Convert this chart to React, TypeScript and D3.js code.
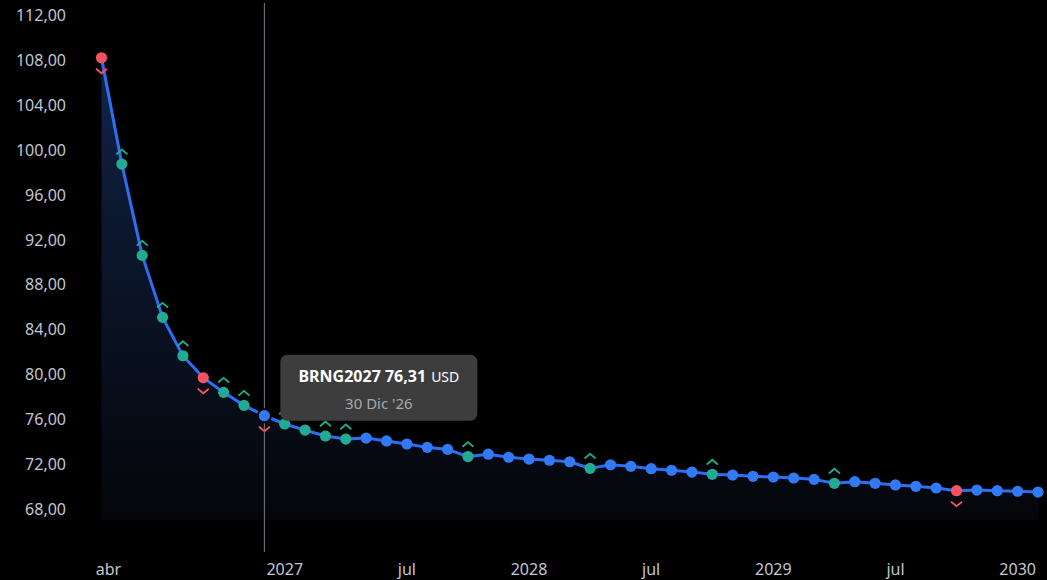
import React from "react";
import * as d3 from "d3";

// Monthly settlement prices of the Brent futures strip (USD), Apr 2026 .. Feb 2030
const prices: number[] = [
  108.19, 98.72, 90.59, 85.07, 81.65, 79.69, 78.39, 77.23, 76.31, 75.57,
  75.03, 74.5, 74.23, 74.32, 74.06, 73.79, 73.49, 73.31, 72.67, 72.88,
  72.61, 72.45, 72.34, 72.21, 71.62, 71.94, 71.8, 71.59, 71.45, 71.29,
  71.09, 71.03, 70.91, 70.85, 70.76, 70.64, 70.29, 70.43, 70.29, 70.14,
  70.02, 69.87, 69.63, 69.69, 69.63, 69.58, 69.51,
];

// Signal per contract: "u" = up marker (green), "d" = down marker (red), "" = none
const signals: string[] = [
  "d", "u", "u", "u", "u", "d", "u", "u", "d", "u",
  "u", "u", "u", "", "", "", "", "", "u", "",
  "", "", "", "", "u", "", "", "", "", "",
  "u", "", "", "", "", "", "u", "", "", "",
  "", "", "d", "", "", "", "",
];

const xTickIndex: number[] = [0, 9, 15, 21, 27, 33, 39, 45];
const xTickLabels: string[] = ["abr", "2027", "jul", "2028", "jul", "2029", "jul", "2030"];

const yTicks: number[] = [68, 72, 76, 80, 84, 88, 92, 96, 100, 104, 108, 112];

const hoverIndex = 8;
const tooltipSymbol = "BRNG2027";
const tooltipCurrency = "USD";
const tooltipDate = "30 Dic '26";

const W = 1047;
const H = 580;

const COLORS = {
  bg: "#000000",
  line: "#2b70f2",
  dot: "#3179f5",
  up: "#22ab94",
  down: "#f7525f",
  axisText: "#c3c6ce",
  crosshair: "#7a7d86",
  tooltipBg: "#3d3d3d",
  tooltipSub: "#a6a9b1",
};

const FONT = "'Noto Sans', 'Open Sans', sans-serif";

const fmt = (v: number) => d3.format(".2f")(v).replace(".", ",");

export default function App() {
  const x = d3.scaleLinear().domain([0, prices.length - 1]).range([101.5, 1038]);
  const y = d3.scaleLinear().domain([68, 112]).range([509, 15]);

  const line = d3
    .line<number>()
    .x((_, i) => x(i))
    .y((d) => y(d));
  const area = d3
    .area<number>()
    .x((_, i) => x(i))
    .y0(y(67))
    .y1((d) => y(d));

  const maxV = d3.max(prices) as number;
  const hx = x(hoverIndex);
  const hy = y(prices[hoverIndex]);

  const tipW = 197;
  const tipH = 66;
  const tipX = hx + 16;
  const tipY = hy - 61;
  const tipCx = tipX + tipW / 2;

  return (
    <svg
      width={W}
      height={H}
      style={{ position: "absolute", left: 0, top: 0, background: COLORS.bg, display: "block" }}
    >
      <defs>
        <linearGradient id="areaGrad" gradientUnits="userSpaceOnUse" x1={0} x2={0} y1={y(maxV)} y2={y(67)}>
          <stop offset="0" stopColor="#122449" />
          <stop offset="0.35" stopColor="#0c1830" />
          <stop offset="0.8" stopColor="#070b15" />
          <stop offset="1" stopColor="#04060a" />
        </linearGradient>
      </defs>
      <rect x={0} y={0} width={W} height={H} fill={COLORS.bg} />

      {/* Y axis labels */}
      {yTicks.map((t) => (
        <text
          key={t}
          x={66}
          y={y(t)}
          textAnchor="end"
          dominantBaseline="central"
          fill={COLORS.axisText}
          fontFamily={FONT}
          fontSize={16}
        >
          {fmt(t)}
        </text>
      ))}

      {/* X axis labels */}
      {xTickIndex.map((idx, k) => (
        <text
          key={k}
          x={x(idx) + (idx === 0 ? 7 : 0)}
          y={575}
          textAnchor="middle"
          fill={COLORS.axisText}
          fontFamily={FONT}
          fontSize={16}
        >
          {xTickLabels[k]}
        </text>
      ))}

      {/* Area */}
      <path d={area(prices) || ""} fill="url(#areaGrad)" />

      {/* Crosshair */}
      <line x1={hx} x2={hx} y1={3} y2={552} stroke={COLORS.crosshair} strokeWidth={1} />

      {/* Line */}
      <path d={line(prices) || ""} fill="none" stroke={COLORS.line} strokeWidth={3} strokeLinejoin="round" />

      {/* Points */}
      {prices.map((v, i) => {
        const s = signals[i];
        const cx = x(i);
        const cy = y(v);
        const hovered = i === hoverIndex;
        const fill = hovered ? COLORS.dot : s === "u" ? COLORS.up : s === "d" ? COLORS.down : COLORS.dot;
        return (
          <g key={i}>
            {hovered && <circle cx={cx} cy={cy} r={7.5} fill="#000" />}
            <circle cx={cx} cy={cy} r={5.6} fill={fill} />
            {s === "u" && (
              <path
                d={`M${cx - 5.5},${cy - 9.8}L${cx},${cy - 14.5}L${cx + 5.5},${cy - 9.8}`}
                fill="none"
                stroke={COLORS.up}
                strokeWidth={1.8}
              />
            )}
            {s === "d" && (
              <path
                d={`M${cx - 5.5},${cy + 11}L${cx},${cy + 15.5}L${cx + 5.5},${cy + 11}`}
                fill="none"
                stroke={COLORS.down}
                strokeWidth={1.8}
              />
            )}
          </g>
        );
      })}

      {/* Tooltip */}
      <rect x={tipX} y={tipY} width={tipW} height={tipH} rx={7} fill={COLORS.tooltipBg} />
      <text x={tipCx} y={tipY + 27} textAnchor="middle" fontFamily={FONT} fill="#ffffff">
        <tspan fontSize={16} fontWeight={700}>
          {`${tooltipSymbol} ${fmt(prices[hoverIndex])}`}
        </tspan>
        <tspan fontSize={14} dx={5}>
          {tooltipCurrency}
        </tspan>
      </text>
      <text
        x={tipCx}
        y={tipY + 54}
        textAnchor="middle"
        fontFamily={FONT}
        fontSize={15}
        fill={COLORS.tooltipSub}
      >
        {tooltipDate}
      </text>
    </svg>
  );
}
